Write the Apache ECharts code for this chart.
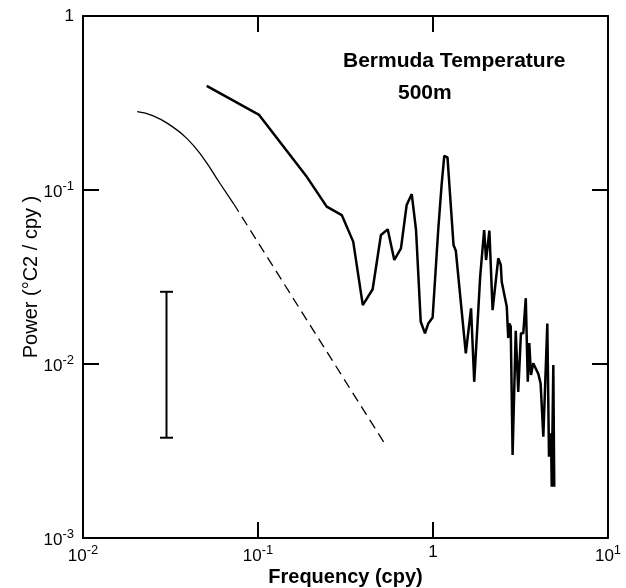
<!DOCTYPE html>
<html>
<head>
<meta charset="utf-8">
<script src="https://cdn.jsdelivr.net/npm/echarts@6/dist/echarts.min.js"></script>
<style>
html,body{margin:0;padding:0;background:#fff;}
#chart{width:626px;height:588px;}
</style>
</head>
<body>
<div id="chart"></div>
<script>
// Observed spectrum (heavy line)
const specFreq = [0.0509,0.1015,0.190,0.247,0.301,0.350,0.397,0.452,0.504,0.551,0.601,0.656,0.707,0.756,0.800,0.851,0.900,0.940,0.995,1.071,1.12,1.16,1.21,1.31,1.35,1.54,1.65,1.72,1.86,1.96,2.01,2.10,2.19,2.36,2.44,2.47,2.64,2.69,2.73,2.78,2.85,2.97,3.07,3.18,3.28,3.39,3.48,3.55,3.63,3.74,4.00,4.12,4.27,4.50,4.60,4.72,4.77,4.87,4.93];
const specPower = [0.397,0.270,0.119,0.0802,0.0718,0.0505,0.0218,0.0269,0.0551,0.0594,0.0396,0.0462,0.082,0.0948,0.0589,0.0175,0.0150,0.0171,0.0185,0.0589,0.107,0.157,0.154,0.0483,0.0448,0.0115,0.0209,0.0079,0.0317,0.0589,0.0396,0.0584,0.0204,0.0405,0.0371,0.0297,0.0213,0.0141,0.0171,0.0164,0.0030,0.0155,0.0069,0.0150,0.0150,0.0239,0.0079,0.0132,0.00865,0.0101,0.00877,0.00774,0.00382,0.0171,0.00293,0.0040,0.00197,0.00986,0.00197];

// Model curve (thin solid part)
const modelFreq = [0.0204,0.0252,0.0314,0.0392,0.0488,0.0607,0.0723];
const modelPower = [0.282,0.267,0.236,0.198,0.152,0.109,0.0839];

// Model extrapolation (dashed part)
const extFreq = [0.0723,0.543];
const extPower = [0.0839,0.00335];

// Confidence bar
const barFreq = [0.03];
const barLow = [0.00377];
const barHigh = [0.026];

// Tick labels (decade exponents)
const xTickExp = [-2,-1,0,1];
const yTickExp = [-3,-2,-1,0];

const zip = (a,b) => a.map((v,i)=>[v,b[i]]);

function expLabel(v){
  const e = Math.round(Math.log10(v));
  if (e === 0) return '{b|1}';
  return '{b|10}{s|' + (e < 0 ? '-' + (-e) : e) + '}';
}
const richTxt = {
  b:{fontSize:17,fontFamily:'Liberation Sans',color:'#000',verticalAlign:'bottom'},
  s:{fontSize:13,fontFamily:'Liberation Sans',color:'#000',verticalAlign:'bottom',padding:[0,0,8,0]}
};

const chart = echarts.init(document.getElementById('chart'));
const baseX = {type:'log',logBase:10,min:Math.pow(10,xTickExp[0]),max:Math.pow(10,xTickExp[xTickExp.length-1]),splitNumber:3,
  splitLine:{show:false},minorTick:{show:false},nameMoveOverlap:false,
  axisLine:{lineStyle:{color:'#000',width:2}},
  axisTick:{inside:true,length:16,lineStyle:{color:'#000',width:2}}};
const baseY = {type:'log',logBase:10,min:Math.pow(10,yTickExp[0]),max:Math.pow(10,yTickExp[yTickExp.length-1]),splitNumber:3,
  splitLine:{show:false},minorTick:{show:false},nameMoveOverlap:false,
  axisLine:{lineStyle:{color:'#000',width:2}},
  axisTick:{inside:true,length:16,lineStyle:{color:'#000',width:2}}};

chart.setOption({
  backgroundColor:'#fff',
  animation:false,
  grid:{left:83,right:18,top:16,bottom:50,containLabel:false,outerBoundsMode:'none'},
  xAxis:[
    Object.assign({},baseX,{position:'bottom',
      axisLabel:{formatter:expLabel,rich:richTxt,margin:6,showMinLabel:true,showMaxLabel:true},
      name:'Frequency (cpy)',nameLocation:'middle',nameGap:29,
      nameTextStyle:{fontSize:20,fontWeight:'bold',fontFamily:'Liberation Sans',color:'#000'}}),
    Object.assign({},baseX,{position:'top',axisLabel:{show:false}})
  ],
  yAxis:[
    Object.assign({},baseY,{position:'left',
      axisLabel:{formatter:expLabel,rich:richTxt,margin:9,showMinLabel:true,showMaxLabel:true},
      name:'Power (°C2 / cpy )',nameLocation:'middle',nameGap:42,nameRotate:90,
      nameTextStyle:{fontSize:20,fontFamily:'Liberation Sans',color:'#000'}}),
    Object.assign({},baseY,{position:'right',axisLabel:{show:false}})
  ],
  graphic:[
    {type:'text',left:343,top:51,style:{text:'Bermuda Temperature',font:'bold 21px "Liberation Sans"',fill:'#000'}},
    {type:'text',left:398,top:83,style:{text:'500m',font:'bold 21px "Liberation Sans"',fill:'#000'}}
  ],
  series:[
    {type:'line',data:zip(specFreq,specPower),showSymbol:false,symbol:'none',
      lineStyle:{color:'#000',width:2.5},z:5},
    {type:'line',data:zip(modelFreq,modelPower),showSymbol:false,symbol:'none',smooth:true,
      lineStyle:{color:'#000',width:1.3}},
    {type:'line',data:zip(extFreq,extPower),showSymbol:false,symbol:'none',
      lineStyle:{color:'#000',width:1.3,type:[10,6]}},
    {type:'custom',data:barFreq.map((f,i)=>[f,barLow[i],barHigh[i]]),
      encode:{x:0,y:[1,2]},
      renderItem:function(params,api){
        const lo = api.coord([api.value(0),api.value(1)]);
        const hi = api.coord([api.value(0),api.value(2)]);
        const w = 6.5;
        const st = {stroke:'#000',lineWidth:2};
        return {type:'group',children:[
          {type:'line',shape:{x1:lo[0],y1:lo[1],x2:hi[0],y2:hi[1]},style:st},
          {type:'line',shape:{x1:lo[0]-w,y1:lo[1],x2:lo[0]+w,y2:lo[1]},style:st},
          {type:'line',shape:{x1:hi[0]-w,y1:hi[1],x2:hi[0]+w,y2:hi[1]},style:st}
        ]};
      }}
  ]
});
</script>
</body>
</html>
